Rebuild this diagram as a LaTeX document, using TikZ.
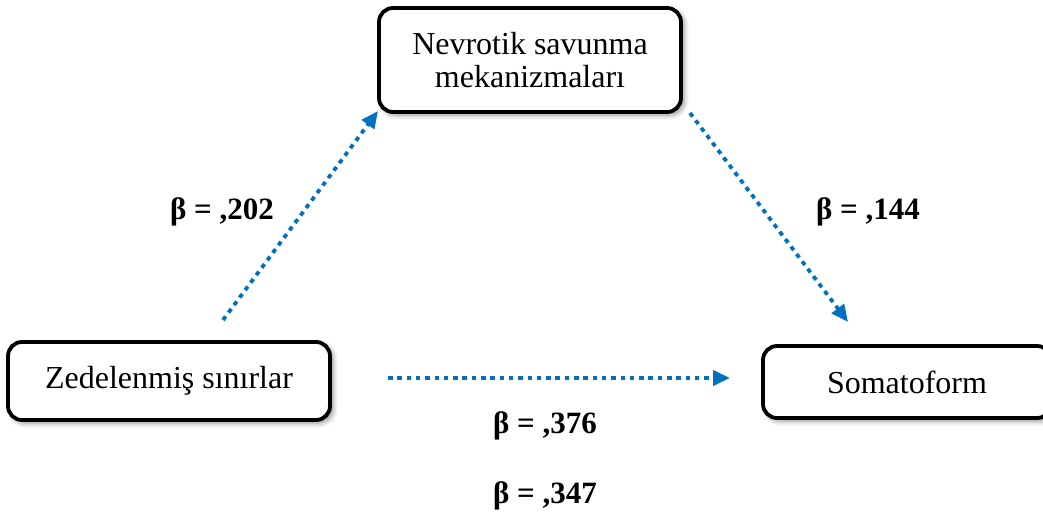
\documentclass[tikz,border=0pt]{standalone}
\usepackage{fontspec}
\setmainfont{Liberation Serif}
\usetikzlibrary{arrows.meta,shadows.blur}
\definecolor{pathblue}{RGB}{0,112,192}
\begin{document}
\begin{tikzpicture}[x=1pt,y=-1pt,
  varbox/.style={draw=black, line width=3.8pt, rounded corners=14pt, fill=white,
    blur shadow={shadow xshift=3pt, shadow yshift=-3pt, shadow blur radius=5pt, shadow opacity=45},
    font=\fontsize{32}{33}\selectfont, align=center, inner sep=0pt},
  path/.style={pathblue, line width=3.8pt, dash pattern=on 4.5pt off 4.8pt,
    -{Triangle[length=17pt,width=15pt]}},
  coef/.style={font=\fontsize{31}{33}\selectfont\bfseries}]
\clip (0,0) rectangle (1043,516);
\useasboundingbox (0,0) rectangle (1043,516);

% variables
\node[varbox, minimum width=302pt, minimum height=104pt] (nev) at (530,60)
  {Nevrotik savunma\\mekanizmaları};
\node[varbox, minimum width=322pt, minimum height=78pt] (zed) at (169,381)
  {Zedelenmiş sınırlar};
\node[varbox, minimum width=288pt, minimum height=72pt] (som) at (907,382)
  {Somatoform};

% free ends of the paths
\coordinate (a0) at (223,320);
\coordinate (a1) at (378,111);
\coordinate (b0) at (690,113);
\coordinate (b1) at (848,322);
\coordinate (c0) at (388,378);
\coordinate (c1) at (730,378);

\draw[path] (a0) -- (a1);
\draw[path] (b0) -- (b1);
\draw[path] (c0) -- (c1);

% coefficients
\node[coef] (k1) at (222,212) {β = ,202};
\node[coef] (k2) at (868,212) {β = ,144};
\node[coef] (k3) at (545,426) {β = ,376};
\node[coef] (k4) at (545,496) {β = ,347};
\end{tikzpicture}
\end{document}
